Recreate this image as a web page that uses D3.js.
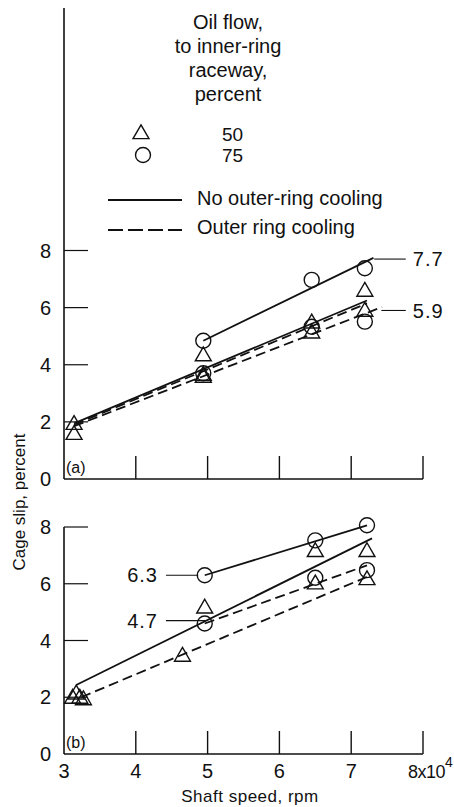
<!DOCTYPE html>
<html><head><meta charset="utf-8">
<script src="https://cdn.jsdelivr.net/npm/d3@7"></script>
<style>
html,body{margin:0;padding:0;background:#fff;}
svg{display:block;}
text{font-family:"Liberation Sans Narrow","Liberation Sans",Arial,sans-serif;fill:#111;}
</style></head>
<body><svg id="c" width="454" height="807"></svg>
<script>
// ---- data ----
const xTicks = [3, 4, 5, 6, 7, 8];
const yTicks = [0, 2, 4, 6, 8];
const legendTitle = ["Oil flow,", "to inner-ring", "raceway,", "percent"];
const legendOil = ["50", "75"];
const legendLines = ["No outer-ring cooling", "Outer ring cooling"];

// panel (a)
const aTriX = [3.14, 3.14, 4.94, 4.94, 4.94, 6.45, 6.45, 7.19, 7.19];
const aTriY = [1.9, 1.55, 4.3, 3.62, 3.55, 5.45, 5.1, 6.56, 5.86];
const aCirX = [4.94, 4.94, 6.45, 6.45, 7.19, 7.19];
const aCirY = [4.84, 3.7, 6.97, 5.33, 7.38, 5.51];
const aSolid75 = [[4.94, 4.84], [7.31, 7.74]];
const aSolid50 = [[3.14, 1.95], [7.22, 6.25]];
const aDash50 = [[3.14, 1.9], [7.22, 6.15]];
const aDash75 = [[3.14, 1.85], [7.43, 6.02]];
const aNotes = [{v: 7.7, label: "7.7", x0: 7.32, x1: 7.76}, {v: 5.9, label: "5.9", x0: 7.42, x1: 7.76}];

// panel (b)
const bTriX = [3.12, 3.17, 3.22, 3.27, 4.65, 4.96, 6.5, 6.5, 7.22, 7.22];
const bTriY = [1.95, 2.1, 1.95, 1.9, 3.43, 5.13, 7.12, 5.98, 7.12, 6.13];
const bCirX = [4.96, 4.96, 6.5, 6.5, 7.22, 7.22];
const bCirY = [6.3, 4.6, 7.53, 6.21, 8.06, 6.48];
const bSolid75 = [[4.96, 6.3], [7.22, 8.06]];
const bSolid50 = [[3.17, 2.43], [7.29, 7.6]];
const bDash75 = [[4.96, 4.6], [7.22, 6.65]];
const bDash50 = [[3.24, 2.0], [7.22, 6.24]];
const bNotes = [{v: 6.3, label: "6.3", x0: 4.42, x1: 4.87}, {v: 4.7, label: "4.7", x0: 4.42, x1: 4.97}];

// ---- drawing ----
const svg = d3.select("#c");
const x = d3.scaleLinear().domain([3, 8]).range([64, 423]);
const FS = 20;
const triPath = d3.symbol(d3.symbolTriangle, 110)();
const line = d3.line();

function panel(yTop, yBot, axisTop, tri, cir, solids, dashes, notes, notesSide, tag) {
  const y = d3.scaleLinear().domain([0, 8]).range([yBot, yTop]);
  const g = svg.append("g");
  g.append("line").attr("x1", x(3)).attr("x2", x(3)).attr("y1", axisTop).attr("y2", y(0))
    .attr("stroke", "#111").attr("stroke-width", 1.6);
  g.append("line").attr("x1", x(3)).attr("x2", x(8)).attr("y1", y(0)).attr("y2", y(0))
    .attr("stroke", "#111").attr("stroke-width", 1.6);
  g.selectAll(".yt").data(yTicks.filter(d => d > 0)).join("line")
    .attr("x1", x(3)).attr("x2", x(3) + 24).attr("y1", d => y(d)).attr("y2", d => y(d))
    .attr("stroke", "#111").attr("stroke-width", 1.2);
  g.selectAll(".yl").data(yTicks).join("text")
    .attr("x", 51).attr("y", d => y(d)).attr("dy", "0.36em").attr("text-anchor", "end")
    .attr("font-size", FS).text(d => d);
  g.selectAll(".xt").data(xTicks.filter(d => d > 3)).join("line")
    .attr("x1", d => x(d)).attr("x2", d => x(d)).attr("y1", y(0)).attr("y2", y(0) - 23)
    .attr("stroke", "#111").attr("stroke-width", 1.4);
  g.append("text").attr("x", x(3) + 2).attr("y", y(0) - 6).attr("font-size", 16).text(tag);
  solids.forEach(s => g.append("path").attr("d", line(s.map(p => [x(p[0]), y(p[1])])))
    .attr("fill", "none").attr("stroke", "#111").attr("stroke-width", 1.8));
  dashes.forEach(s => g.append("path").attr("d", line(s.map(p => [x(p[0]), y(p[1])])))
    .attr("fill", "none").attr("stroke", "#111").attr("stroke-width", 1.8)
    .attr("stroke-dasharray", "10,5"));
  g.selectAll(".tri").data(d3.zip(tri[0], tri[1])).join("path")
    .attr("d", triPath).attr("transform", d => `translate(${x(d[0])},${y(d[1])})`)
    .attr("fill", "none").attr("stroke", "#111").attr("stroke-width", 1.4);
  g.selectAll(".cir").data(d3.zip(cir[0], cir[1])).join("circle")
    .attr("cx", d => x(d[0])).attr("cy", d => y(d[1])).attr("r", 7.5)
    .attr("fill", "none").attr("stroke", "#111").attr("stroke-width", 1.4);
  notes.forEach(n => {
    g.append("line").attr("x1", x(n.x0)).attr("x2", x(n.x1)).attr("y1", y(n.v)).attr("y2", y(n.v))
      .attr("stroke", "#111").attr("stroke-width", 1.1);
    if (notesSide === "right") {
      g.append("text").attr("x", x(n.x1) + 7).attr("y", y(n.v)).attr("dy", "0.36em")
        .attr("font-size", FS).attr("letter-spacing", 1).text(n.label);
    } else {
      g.append("text").attr("x", x(n.x0) - 8).attr("y", y(n.v)).attr("dy", "0.36em")
        .attr("text-anchor", "end").attr("font-size", FS).attr("letter-spacing", 1).text(n.label);
    }
  });
  return y;
}

panel(250.5, 479, 8, [aTriX, aTriY], [aCirX, aCirY], [aSolid75, aSolid50], [aDash50, aDash75], aNotes, "right", "(a)");
panel(527, 754, 527, [bTriX, bTriY], [bCirX, bCirY], [bSolid75, bSolid50], [bDash75, bDash50], bNotes, "left", "(b)");

// x tick labels (bottom panel)
svg.selectAll(".xl").data(xTicks.slice(0, -1)).join("text")
  .attr("x", d => x(d)).attr("y", 778).attr("text-anchor", "middle").attr("font-size", FS).text(d => d);
const last = svg.append("text").attr("x", x(8) - 15).attr("y", 778).attr("font-size", 18).attr("letter-spacing", -0.5);
last.append("tspan").text(xTicks[xTicks.length - 1] + "x10");
last.append("tspan").attr("dy", -11).attr("font-size", 14).text("4");

// axis titles
svg.append("text").attr("x", 250).attr("y", 802).attr("text-anchor", "middle").attr("font-size", 17)
  .attr("letter-spacing", 0.5).text("Shaft speed, rpm");
svg.append("text").attr("transform", "translate(25,502) rotate(-90)").attr("text-anchor", "middle")
  .attr("font-size", 17).text("Cage slip, percent");

// legend
svg.selectAll(".lt").data(legendTitle).join("text")
  .attr("x", 228).attr("y", (d, i) => 29 + i * 24).attr("text-anchor", "middle").attr("font-size", FS).text(d => d);
svg.append("path").attr("d", triPath).attr("transform", "translate(141,134)")
  .attr("fill", "none").attr("stroke", "#111").attr("stroke-width", 1.4);
svg.append("circle").attr("cx", 143).attr("cy", 155).attr("r", 7.5)
  .attr("fill", "none").attr("stroke", "#111").attr("stroke-width", 1.4);
svg.selectAll(".lo").data(legendOil).join("text")
  .attr("x", 222).attr("y", (d, i) => 134 + i * 21).attr("dy", "0.36em").attr("font-size", 19).text(d => d);
svg.append("line").attr("x1", 108).attr("x2", 182).attr("y1", 200).attr("y2", 200)
  .attr("stroke", "#111").attr("stroke-width", 1.8);
svg.append("line").attr("x1", 108).attr("x2", 182).attr("y1", 230).attr("y2", 230)
  .attr("stroke", "#111").attr("stroke-width", 1.8).attr("stroke-dasharray", "15,5");
svg.selectAll(".ll").data(legendLines).join("text")
  .attr("x", 197).attr("y", (d, i) => 198 + i * 29).attr("dy", "0.36em").attr("font-size", FS).text(d => d);
</script></body></html>
